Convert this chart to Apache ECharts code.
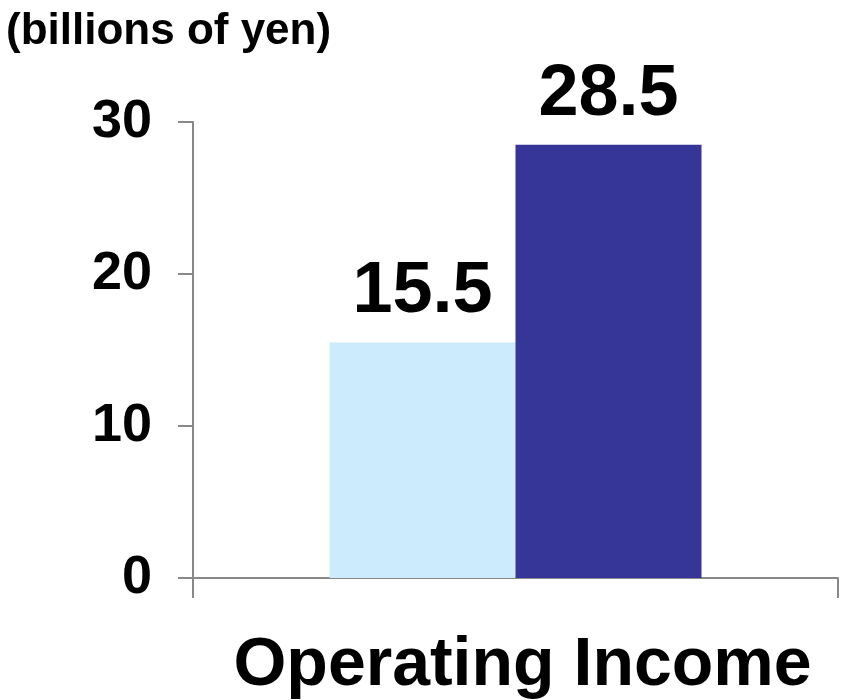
<!DOCTYPE html>
<html>
<head>
<meta charset="utf-8">
<script src="https://cdn.jsdelivr.net/npm/echarts@6/dist/echarts.min.js"></script>
<style>
html,body{margin:0;padding:0;background:#fff;}
#chart{width:841px;height:700px;}
</style>
</head>
<body>
<div id="chart"></div>
<script>
const categories = ['Operating Income'];
const seriesA = [15.5];
const seriesB = [28.5];
const yTicks = [0, 10, 20, 30];
const unitLabel = '(billions of yen)';

const chart = echarts.init(document.getElementById('chart'), null, {renderer: 'canvas'});
const axisColor = '#888888';
const labelStyle = {
  show: true,
  position: 'top',
  distance: 14,
  color: '#000',
  fontFamily: 'Liberation Sans, Arial, sans-serif',
  fontWeight: 'bold',
  fontSize: 72
};
chart.setOption({
  animation: false,
  backgroundColor: '#ffffff',
  title: {
    text: unitLabel,
    left: 1,
    top: 5,
    textStyle: {fontFamily: 'Liberation Sans, Arial, sans-serif', fontWeight: 'bold', fontSize: 44, color: '#000'}
  },
  grid: {left: 193, right: 3, top: 122, bottom: 122, containLabel: false, outerBoundsMode: 'none'},
  xAxis: {
    type: 'category',
    data: categories,
    boundaryGap: true,
    axisLine: {show: true, lineStyle: {color: axisColor, width: 2}},
    axisTick: {show: true, length: 20, lineStyle: {color: axisColor, width: 2}},
    axisLabel: {
      margin: 54,
      padding: [0, 0, 0, 14],
      color: '#000',
      fontFamily: 'Liberation Sans, Arial, sans-serif',
      fontWeight: 'bold',
      fontSize: 68
    },
    splitLine: {show: false}
  },
  yAxis: {
    type: 'value',
    min: yTicks[0],
    max: yTicks[yTicks.length - 1],
    interval: yTicks[1] - yTicks[0],
    axisLine: {show: true, lineStyle: {color: axisColor, width: 2}},
    axisTick: {show: true, length: 15, lineStyle: {color: axisColor, width: 2}},
    axisLabel: {
      margin: 41,
      color: '#000',
      fontFamily: 'Liberation Sans, Arial, sans-serif',
      fontWeight: 'bold',
      fontSize: 54
    },
    splitLine: {show: false}
  },
  series: [
    {
      type: 'bar',
      data: seriesA,
      barWidth: 186,
      barGap: '0%',
      itemStyle: {color: '#CCEBFC'},
      label: labelStyle
    },
    {
      type: 'bar',
      data: seriesB,
      barWidth: 186,
      barGap: '0%',
      itemStyle: {color: '#363598'},
      label: labelStyle
    }
  ]
});
</script>
</body>
</html>
